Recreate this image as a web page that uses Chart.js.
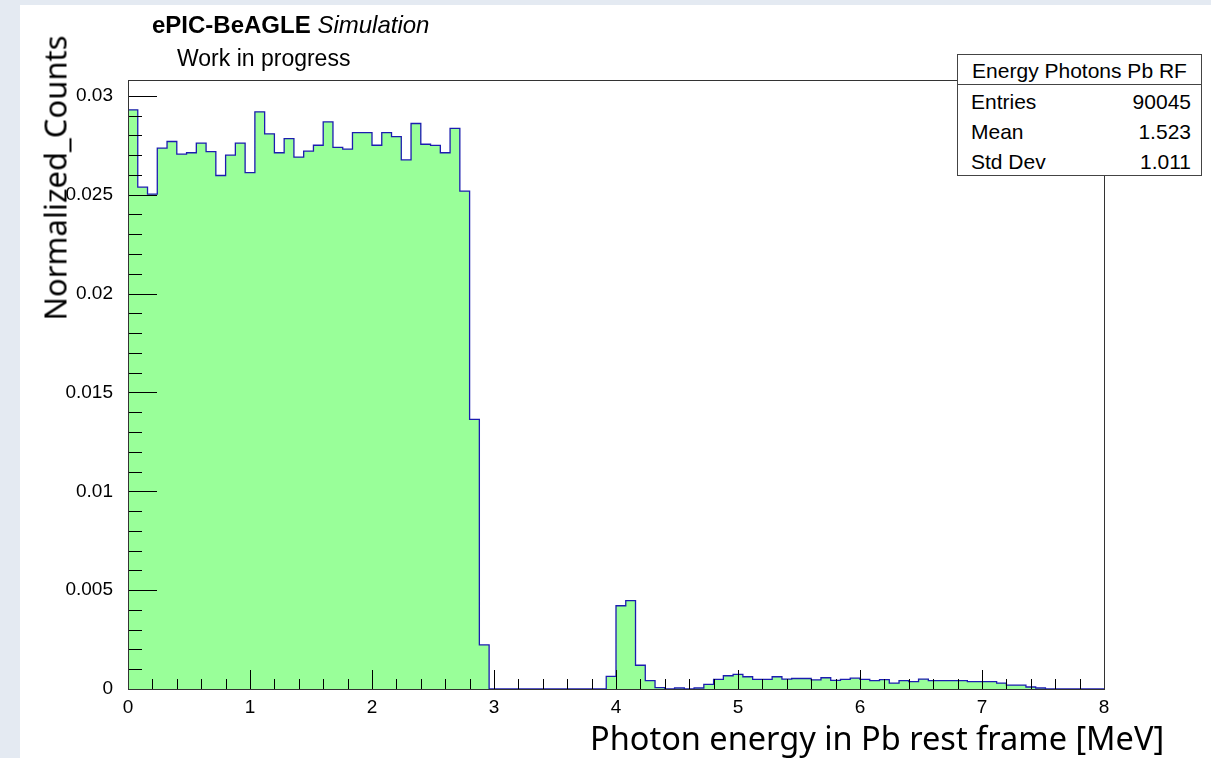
<!DOCTYPE html>
<html>
<head>
<meta charset="utf-8">
<title>Energy Photons Pb RF</title>
<script src="https://cdn.jsdelivr.net/npm/chart.js@4.4.1/dist/chart.umd.min.js"></script>
<style>
  html, body { margin: 0; padding: 0; background: #e4eaf2; }
  #wrap { position: relative; width: 1211px; height: 758px; overflow: hidden; }
  #chart { position: absolute; left: 0; top: 0; }
  .txt { position: absolute; white-space: nowrap; color: #000; line-height: 1; }
  .root { font-family: "Liberation Sans", Arial, sans-serif; }
  .big { font-family: "Noto Sans", sans-serif; }
  #stats { position: absolute; left: 957px; top: 54px; width: 243px; height: 120px;
           border: 1px solid #444; background: #fff; }
  #stats .sep { position: absolute; left: 0; right: 0; top: 29px; border-top: 1px solid #444; }
</style>
</head>
<body>
<div id="wrap">
  <canvas id="chart" width="1211" height="758"></canvas>
  <div class="txt root" style="left:152px; top:13px; font-size:24px;"><b>ePIC-BeAGLE</b> <i>Simulation</i></div>
  <div class="txt root" style="left:177px; top:47px; font-size:23px;">Work in progress</div>
  <div id="stats"></div>
  <div class="txt big" id="ytitle" style="left:55px; top:178px; font-size:31px; transform: translate(-50%,-50%) rotate(-90deg);">Normalized_Counts</div>
  <div class="txt big" style="left:590px; top:722px; font-size:32.5px;">Photon energy in Pb rest frame [MeV]</div>
</div>
<script>
// histogram: 100 bins between 0 and 8 MeV, normalized
const binLow = 0;
const binWidth = 0.08;
const counts = [
  0.02929, 0.02538, 0.02503, 0.02735, 0.02769, 0.02705, 0.02712, 0.02761, 0.02718, 0.02597,
  0.02700, 0.02761, 0.02612, 0.02919, 0.02808, 0.02712, 0.02784, 0.02690, 0.02720, 0.02750,
  0.02868, 0.02739, 0.02730, 0.02814, 0.02814, 0.02750, 0.02814, 0.02794, 0.02676, 0.02860,
  0.02755, 0.02749, 0.02712, 0.02835, 0.02518, 0.01364, 0.00223, 0, 0, 0,
  0, 0, 0, 0, 0, 0, 0, 0, 0, 0.00064,
  0.00421, 0.00447, 0.00120, 0.00042, 0.00007, 0, 0.00005, 0, 0.00005, 0.00023,
  0.00049, 0.00067, 0.00074, 0.00062, 0.00049, 0.00049, 0.00062, 0.00050, 0.00053, 0.00053,
  0.00046, 0.00057, 0.00044, 0.00049, 0.00055, 0.00049, 0.00042, 0.00047, 0.00030, 0.00042,
  0.00037, 0.00050, 0.00042, 0.00042, 0.00042, 0.00042, 0.00037, 0.00037, 0.00037, 0.00030,
  0.00020, 0.00020, 0.00010, 0.00005, 0, 0, 0, 0, 0, 0
];
const xTicks = [0, 1, 2, 3, 4, 5, 6, 7, 8];
const yTicks = [0, 0.005, 0.01, 0.015, 0.02, 0.025, 0.03];
const yTickLabels = ["0", "0.005", "0.01", "0.015", "0.02", "0.025", "0.03"];
const statNames = ["Entries", "Mean", "Std Dev"];
const statValues = ["90045", "1.523", "1.011"];
const statTitle = "Energy Photons Pb RF";

// stats box
let stats = document.getElementById("stats");
stats.innerHTML = `<div class="txt root" style="left:0;right:0;text-align:center;top:5px;font-size:21px;">${statTitle}</div><div class="sep"></div>`;
statNames.forEach((n, i) => {
  let top = 36 + i * 30;
  stats.innerHTML += `<div class="txt root" style="left:13px;top:${top}px;font-size:21px;">${n}</div>` +
    `<div class="txt root" style="right:10px;top:${top}px;font-size:21px;">${statValues[i]}</div>`;
});

// step points at the bin low edges, plus the upper edge of the last bin
let points = counts.map((c, i) => ({ x: binLow + i * binWidth, y: c }));
points.push({ x: binLow + counts.length * binWidth, y: counts[counts.length - 1] });

// ROOT style frame and inward ticks
const rootFrame = {
  id: "rootFrame",
  beforeDraw(chart) {
    let ctx = chart.ctx;
    ctx.save();
    ctx.fillStyle = "#fff";
    ctx.fillRect(20, 5, chart.width - 20, chart.height - 5);
    ctx.restore();
  },
  afterDatasetsDraw(chart) {
    let ctx = chart.ctx;
    let a = chart.chartArea;
    let x = chart.scales.x, y = chart.scales.y;
    ctx.save();
    ctx.strokeStyle = "#000";
    ctx.lineWidth = 1;
    ctx.beginPath();
    for (let k = 0; k <= 40; k++) {
      let px = Math.round(x.getPixelForValue(k * 0.2)) + 0.5;
      let len = k % 5 === 0 ? 19 : 10;
      ctx.moveTo(px, a.bottom);
      ctx.lineTo(px, a.bottom - len);
    }
    for (let k = 0; k <= 30; k++) {
      let py = Math.round(y.getPixelForValue(k * 0.001)) + 0.5;
      let len = k % 5 === 0 ? 29 : 14;
      ctx.moveTo(a.left, py);
      ctx.lineTo(a.left + len, py);
    }
    ctx.stroke();
    ctx.strokeStyle = "#333";
    ctx.strokeRect(Math.round(a.left) + 0.5, Math.round(a.top) + 0.5,
      Math.round(a.right - a.left), Math.round(a.bottom - a.top));
    ctx.restore();
  }
};

const tickFont = { family: "Liberation Sans", size: 19 };

new Chart(document.getElementById("chart"), {
  type: "line",
  data: {
    datasets: [{
      data: points,
      stepped: "before",
      fill: "origin",
      backgroundColor: "#99ff99",
      borderColor: "#1c1cb0",
      borderWidth: 1.3,
      pointRadius: 0
    }]
  },
  options: {
    responsive: false,
    animation: false,
    layout: { padding: { left: 0, right: 107, top: 80, bottom: 0 } },
    plugins: { legend: { display: false }, tooltip: { enabled: false } },
    scales: {
      x: {
        type: "linear",
        min: 0,
        max: 8,
        grid: { display: false },
        border: { display: false },
        afterBuildTicks: s => { s.ticks = xTicks.map(v => ({ value: v })); },
        afterFit: s => { s.height = 69; },
        ticks: { color: "#000", font: tickFont, padding: -1, maxRotation: 0, autoSkip: false }
      },
      y: {
        type: "linear",
        min: 0,
        max: 0.0308,
        grid: { display: false },
        border: { display: false },
        afterBuildTicks: s => { s.ticks = yTicks.map(v => ({ value: v })); },
        afterFit: s => { s.width = 128; },
        ticks: {
          color: "#000", font: tickFont, padding: 7, autoSkip: false,
          callback: (v, i) => yTickLabels[i]
        }
      }
    }
  },
  plugins: [rootFrame]
});
</script>
</body>
</html>
